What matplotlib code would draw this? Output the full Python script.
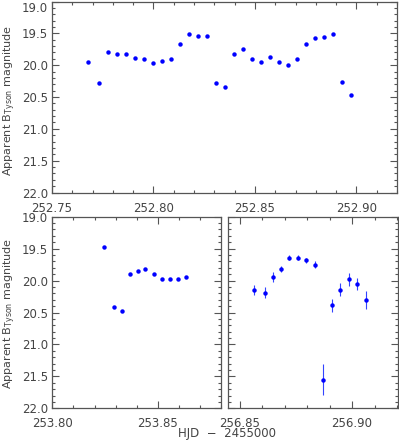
#!/usr/bin/env python
# light curve panels, B_Tyson magnitudes vs HJD
import matplotlib
matplotlib.use('Agg')
import matplotlib.pyplot as plt
from matplotlib.ticker import MultipleLocator

# ---- data ----
# night 1
t1 = [252.7677, 252.7731, 252.7775, 252.7820, 252.7864, 252.7908, 252.7952, 252.7997,
      252.8041, 252.8085, 252.8130, 252.8175, 252.8220, 252.8264, 252.8308, 252.8352,
      252.8397, 252.8441, 252.8485, 252.8530, 252.8574, 252.8620, 252.8664, 252.8708,
      252.8752, 252.8797, 252.8841, 252.8885, 252.8931, 252.8974]
m1 = [19.95, 20.28, 19.80, 19.83, 19.82, 19.89, 19.91, 19.96, 19.94, 19.90,
      19.66, 19.51, 19.54, 19.54, 20.28, 20.35, 19.83, 19.75, 19.91, 19.95,
      19.875, 19.95, 19.995, 19.91, 19.66, 19.58, 19.56, 19.51, 20.26, 20.47]
# night 2
t2 = [253.8247, 253.8291, 253.8329, 253.8367, 253.8405, 253.8441, 253.8481, 253.8519,
      253.8557, 253.8595, 253.8631]
m2 = [19.48, 20.41, 20.48, 19.90, 19.85, 19.82, 19.90, 19.97, 19.97, 19.98, 19.95]
# night 3 (with errors)
t3 = [256.8564, 256.8611, 256.8648, 256.8685, 256.8722, 256.8759, 256.8797, 256.8836,
      256.8873, 256.8910, 256.8948, 256.8987, 256.9024, 256.9061]
m3 = [20.15, 20.19, 19.95, 19.82, 19.64, 19.64, 19.68, 19.75, 21.55, 20.39, 20.14,
      19.98, 20.06, 20.31]
e3 = [0.073, 0.09, 0.08, 0.05, 0.04, 0.04, 0.04, 0.05, 0.245, 0.095, 0.10, 0.10,
      0.095, 0.14]

ylabel = r'Apparent B$_{\mathrm{Tyson}}$ magnitude'
xlabel = 'HJD  \u2212  2455000'

W, H = 399, 443
txt_color = '#444444'
ax_color = '#555555'
plt.rcParams['font.family'] = 'DejaVu Sans'
plt.rcParams['font.size'] = 8.5
plt.rcParams['mathtext.fontset'] = 'dejavusans'

fig = plt.figure(figsize = (W/100, H/100), dpi = 100)

def px_axes(left, top, right, bottom):
    return fig.add_axes([left/W, 1 - bottom/H, (right - left)/W, (bottom - top)/H])

def style(ax, xlim, show_y = True):
    ax.set_xlim(*xlim)
    ax.set_ylim(22.0, 19.0)
    ax.xaxis.set_major_locator(MultipleLocator(0.05))
    ax.xaxis.set_minor_locator(MultipleLocator(0.01))
    ax.yaxis.set_major_locator(MultipleLocator(0.5))
    ax.yaxis.set_minor_locator(MultipleLocator(0.1))
    ax.tick_params(which = 'both', direction = 'in', top = True, right = True,
        colors = ax_color, labelcolor = txt_color, width = 0.8)
    ax.tick_params(which = 'major', length = 5)
    ax.tick_params(which = 'minor', length = 2.5)
    ax.tick_params(axis = 'x', pad = 6.5)
    ax.tick_params(axis = 'y', pad = 3)
    ax.xaxis.set_major_formatter(plt.FuncFormatter(lambda v, p: '{:.2f}'.format(v)))
    ax.yaxis.set_major_formatter(plt.FuncFormatter(lambda v, p: '{:.1f}'.format(v)))
    if not show_y:
        ax.set_yticklabels([])
    for s in ax.spines.values():
        s.set_color(ax_color)
        s.set_linewidth(0.9)

ax1 = px_axes(52, 1.5, 397, 192.5)
ax1.plot(t1, m1, 'o', color = 'blue', ms = 3.2, mec = 'none')
style(ax1, (252.75, 252.92))

ax2 = px_axes(52.3, 216.7, 221.2, 408.3)
ax2.plot(t2, m2, 'o', color = 'blue', ms = 3.2, mec = 'none')
style(ax2, (253.80, 253.88))

ax3 = px_axes(228.3, 216.7, 397.7, 408.3)
ax3.errorbar(t3, m3, yerr = e3, fmt = 'o', color = 'blue', ms = 3.2, mec = 'none',
    elinewidth = 0.8, ecolor = '#3344ff', capsize = 0)
style(ax3, (256.845, 256.9203), show_y = False)

fig.canvas.draw()
# the 19.0 label at the very top hangs below its tick
for lab in ax1.get_yticklabels():
    if lab.get_text() == '19.0':
        lab.set_va('top')

fig.text(10/W, 1 - 100/H, ylabel, rotation = 90, ha = 'center', va = 'center',
    color = txt_color, fontsize = 8)
fig.text(10/W, 1 - 313/H, ylabel, rotation = 90, ha = 'center', va = 'center',
    color = txt_color, fontsize = 8)
fig.text(227/W, 1 - 433/H, xlabel, ha = 'center', va = 'center', color = txt_color)

fig.savefig('out.png', dpi = 100)
